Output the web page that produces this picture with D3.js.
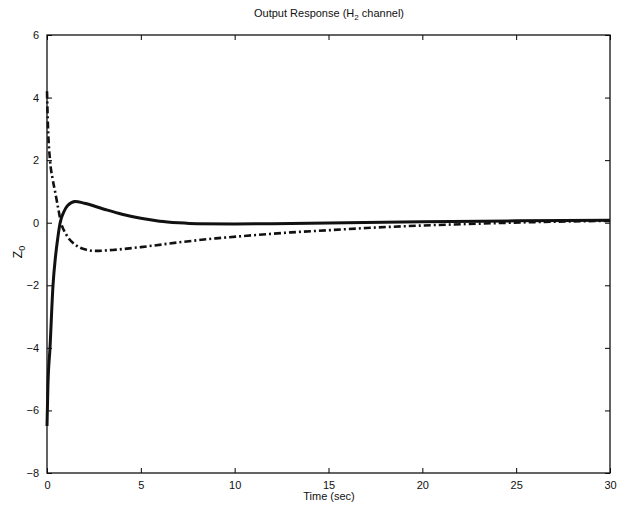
<!DOCTYPE html>
<html>
<head>
<meta charset="utf-8">
<script src="https://cdn.jsdelivr.net/npm/d3@7"></script>
<style>
  body { margin: 0; background: #fff; }
  text { font-family: "Liberation Sans", Arial, sans-serif; fill: #111; }
</style>
</head>
<body>
<div id="vis"></div>
<script>
// time (sec) and the two outputs
const solidT = [0, 0.05, 0.16, 0.32, 0.45, 0.55, 0.7, 0.9, 1.1, 1.5, 2, 3, 4, 5, 6, 7, 8, 10, 12, 15, 20, 25, 30];
const solidZ = [-6.5, -5.2, -4, -2, -1.1, -0.6, 0, 0.35, 0.55, 0.68, 0.62, 0.44, 0.27, 0.14, 0.05, 0, -0.03, -0.04, -0.03, -0.01, 0.03, 0.06, 0.08];

const dashT = [0, 0.05, 0.16, 0.3, 0.43, 0.6, 0.75, 1, 1.5, 2, 2.6, 3.5, 5, 7, 9, 11, 13, 15, 17, 20, 23, 26, 30];
const dashZ = [4.2, 3.1, 2, 1.4, 1, 0.45, 0, -0.35, -0.7, -0.85, -0.9, -0.87, -0.78, -0.63, -0.5, -0.4, -0.31, -0.24, -0.17, -0.09, -0.03, 0.02, 0.06];

const xTicks = [0, 5, 10, 15, 20, 25, 30];
const yTicks = [-8, -6, -4, -2, 0, 2, 4, 6];

const width = 624, height = 509;
const margin = {left: 47, right: 14, top: 35, bottom: 36};

const svg = d3.select("#vis").append("svg")
  .attr("width", width)
  .attr("height", height);

const x = d3.scaleLinear().domain([0, 30]).range([margin.left, width - margin.right]);
const y = d3.scaleLinear().domain([-8, 6]).range([height - margin.bottom, margin.top]);

// ticks on all four sides, pointing in
svg.append("g")
  .attr("transform", "translate(0," + y(-8) + ")")
  .call(d3.axisBottom(x).tickValues(xTicks).tickSizeInner(-5).tickSizeOuter(0).tickPadding(8))
  .call(g => g.select(".domain").remove())
  .call(g => g.selectAll("text").style("font-size", "11px"));
svg.append("g")
  .attr("transform", "translate(0," + y(6) + ")")
  .call(d3.axisTop(x).tickValues(xTicks).tickSizeInner(-5).tickSizeOuter(0).tickFormat(""))
  .call(g => g.select(".domain").remove());
svg.append("g")
  .attr("transform", "translate(" + x(0) + ",0)")
  .call(d3.axisLeft(y).tickValues(yTicks).tickSizeInner(-5).tickSizeOuter(0).tickPadding(8)
    .tickFormat(d => d < 0 ? "\u2212" + (-d) : d))
  .call(g => g.select(".domain").remove())
  .call(g => g.selectAll("text").style("font-size", "11px"));
svg.append("g")
  .attr("transform", "translate(" + x(30) + ",0)")
  .call(d3.axisRight(y).tickValues(yTicks).tickSizeInner(-5).tickSizeOuter(0).tickFormat(""))
  .call(g => g.select(".domain").remove());

svg.append("rect")
  .attr("x", x(0)).attr("y", y(6))
  .attr("width", x(30) - x(0)).attr("height", y(-8) - y(6))
  .attr("fill", "none").attr("stroke", "#111").attr("stroke-width", 1.3);

const line = d3.line()
  .x(d => x(d[0]))
  .y(d => y(d[1]))
  .curve(d3.curveMonotoneX);

svg.append("path")
  .datum(dashT.map((t, i) => [t, dashZ[i]]))
  .attr("d", line)
  .attr("fill", "none")
  .attr("stroke", "#111")
  .attr("stroke-width", 2.6)
  .attr("stroke-dasharray", "7,3,2,3");

svg.append("path")
  .datum(solidT.map((t, i) => [t, solidZ[i]]))
  .attr("d", line)
  .attr("fill", "none")
  .attr("stroke", "#111")
  .attr("stroke-width", 3);

// title
const title = svg.append("text")
  .attr("x", 329).attr("y", 17)
  .attr("text-anchor", "middle")
  .style("font-size", "11px");
title.append("tspan").text("Output Response (H");
title.append("tspan").attr("dy", 3).style("font-size", "8px").text("2");
title.append("tspan").attr("dy", -3).text(" channel)");

svg.append("text")
  .attr("x", 329).attr("y", 500)
  .attr("text-anchor", "middle")
  .style("font-size", "11px")
  .text("Time (sec)");

const yl = svg.append("text")
  .attr("transform", "translate(22,252) rotate(-90)")
  .attr("text-anchor", "middle")
  .style("font-size", "12px");
yl.append("tspan").text("Z");
yl.append("tspan").attr("dy", 3).style("font-size", "9px").text("0");
</script>
</body>
</html>
